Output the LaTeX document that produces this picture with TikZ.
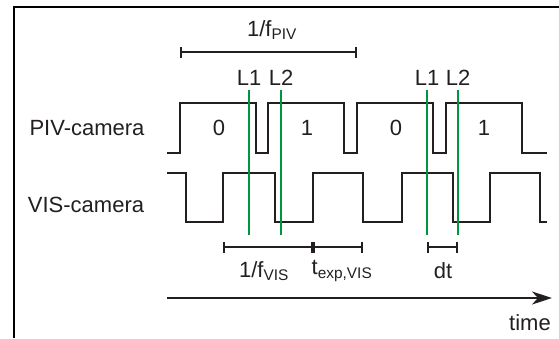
\documentclass[tikz,border=0pt]{standalone}
\usepackage{fontspec}
\setmainfont{Liberation Sans}
\usepackage{tikz}
\usetikzlibrary{arrows.meta}
\definecolor{lasergreen}{RGB}{0,150,64}
\definecolor{inkblack}{RGB}{35,31,32}

\begin{document}
\begin{tikzpicture}[
  x=1pt,
  y=-1pt,
  lbl/.style={
    font=\fontsize{22}{25}\selectfont,
    text=inkblack,
    inner sep=0pt
  },
  frame/.style={
    line width=2.6pt,
    black
  },
  wave/.style={
    line width=1.9pt,
    inkblack
  },
  laser/.style={
    line width=1.5pt,
    lasergreen
  },
  span/.style={
    line width=1.9pt,
    inkblack,
    {Bar[width=11pt]}-{Bar[width=11pt]}
  },
  axis/.style={
    line width=1.9pt,
    inkblack,
    -{Stealth[length=20pt,width=13pt,inset=6pt]}
  }
]

\useasboundingbox (0,0) rectangle (559,338);

% frame
\draw[frame] (14,338) -- (14,7) -- (559,7);

% rows
\node[lbl] (pivcam) at (87,128) {PIV-camera};
\node[lbl] (viscam) at (86,205) {VIS-camera};

% PIV-camera frames
\draw[wave] (167,153) -- (180,153) -- (180,103) -- (256,103) -- (256,153)
  -- (268,153) -- (268,103) -- (344,103) -- (344,153) -- (357,153)
  -- (357,103) -- (433,103) -- (433,153) -- (446,153) -- (446,103)
  -- (522,103) -- (522,153) -- (547,153);

\node[lbl] (frameA) at (219,128) {0};
\node[lbl] (frameB) at (307,128) {1};
\node[lbl] (frameC) at (396,128) {0};
\node[lbl] (frameD) at (484,128) {1};

% VIS-camera exposures
\draw[wave] (167,173) -- (186,173) -- (186,222) -- (223,222) -- (223,173)
  -- (275,173) -- (275,222) -- (313,222) -- (313,173) -- (363,173)
  -- (363,222) -- (402,222) -- (402,173) -- (453,173) -- (453,222)
  -- (490,222) -- (490,173) -- (540,173) -- (540,222) -- (547,222);

% laser pulses
\foreach \x/\t [count=\i] in {249/L1, 281/L2, 427/L1, 458/L2}{
  \node[lbl] (pulse\i) at (\x,78) {\t};
  \draw[laser] (\x,90) -- (\x,235);
}

% PIV period
\coordinate (pivA) at (180,52);
\coordinate (pivB) at (357,52);
\draw[span] (pivA) -- (pivB);
\node[lbl] (fpiv) at (272,30) {1/f\textsubscript{PIV}};

% VIS period, exposure and pulse gap
\coordinate (visA) at (223,247);
\coordinate (visB) at (313,247);
\coordinate (visC) at (363,247);
\coordinate (dtA) at (427,247);
\coordinate (dtB) at (458,247);

\draw[span] (visA) -- (visB);
\draw[span] (visB) -- (visC);
\draw[span] (dtA) -- (dtB);

\node[lbl] (fvis) at (264,271) {1/f\textsubscript{VIS}};
\node[lbl] (texp) at (342,271) {t\textsubscript{exp,VIS}};
\node[lbl] (dt) at (443,271) {dt};

% time axis
\coordinate (tA) at (167,298);
\coordinate (tB) at (552,298);
\draw[axis] (tA) -- (tB);
\node[lbl] (time) at (530,323) {time};

\end{tikzpicture}
\end{document}
